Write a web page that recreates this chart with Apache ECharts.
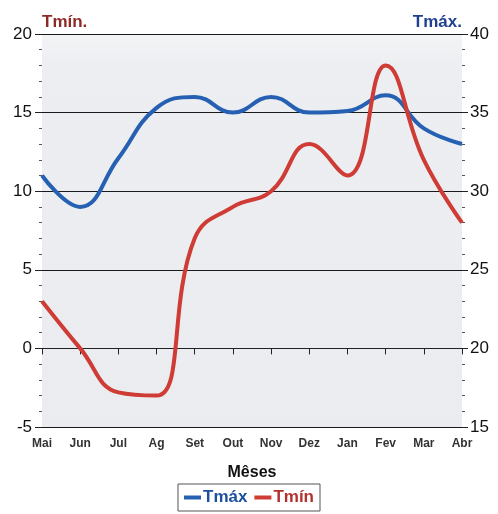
<!DOCTYPE html>
<html>
<head>
<meta charset="utf-8">
<script src="https://cdn.jsdelivr.net/npm/echarts@6/dist/echarts.min.js"></script>
<style>
  html, body { margin: 0; padding: 0; background: #ffffff; }
  #chart { width: 498px; height: 514px; }
</style>
</head>
<body>
<div id="chart"></div>
<script>
// Monthly temperatures, May to April
const months = ['Mai', 'Jun', 'Jul', 'Ag', 'Set', 'Out', 'Nov', 'Dez', 'Jan', 'Fev', 'Mar', 'Abr'];
const tmax = [31, 29, 32.1, 35.3, 36, 35, 36, 35, 35.1, 36.1, 34, 33];
const tmin = [3, 0, -2.8, -3, 7, 9, 10, 13, 11, 18, 12, 8];

const blue = '#2660b3';
const red = '#cf3b35';

const chart = echarts.init(document.getElementById('chart'));
chart.setOption({
  animation: false,
  backgroundColor: '#ffffff',
  textStyle: { fontFamily: 'Liberation Sans, Arial, sans-serif' },
  grid: {
    left: 42, right: 36, top: 34, bottom: 87,
    show: true,
    borderWidth: 0,
    backgroundColor: {
      type: 'linear', x: 0, y: 0, x2: 0, y2: 1,
      colorStops: [
        { offset: 0, color: '#f3f4f6' },
        { offset: 0.08, color: '#eceef1' },
        { offset: 1, color: '#eaecef' }
      ]
    }
  },
  legend: {
    bottom: 3,
    left: 'center',
    padding: [5, 6],
    borderColor: '#555',
    borderWidth: 1,
    itemWidth: 17,
    itemHeight: 4,
    itemGap: 7,
    icon: 'rect',
    textStyle: { fontSize: 17, fontWeight: 'bold', padding: [0, 0, 0, -3] },
    data: [
      { name: 'Tmáx', textStyle: { color: '#1d4f9c' } },
      { name: 'Tmín', textStyle: { color: '#b3312d' } }
    ]
  },
  xAxis: {
    type: 'category',
    data: months,
    boundaryGap: false,
    name: 'Mêses',
    nameLocation: 'middle',
    nameGap: 38,
    nameTextStyle: { fontSize: 16, fontWeight: 'bold', color: '#111' },
    axisLine: { show: true, lineStyle: { color: '#222', width: 1 } },
    axisTick: { show: true, length: 6, alignWithLabel: true, lineStyle: { color: '#222' } },
    axisLabel: { fontSize: 12, fontWeight: 'bold', color: '#333', margin: 11 },
    splitLine: { show: false }
  },
  yAxis: [
    {
      type: 'value',
      min: -5, max: 20, interval: 5,
      position: 'left',
      name: 'Tmín.',
      nameGap: 12,
      nameTextStyle: { color: '#8e2a26', fontSize: 17, fontWeight: 'bold', align: 'left', verticalAlign: 'middle' },
      axisLine: { show: false },
      axisTick: { show: true, length: 7, lineStyle: { color: '#222' } },
      minorTick: { show: true, splitNumber: 5, length: 3, lineStyle: { color: '#555' } },
      axisLabel: { fontSize: 17, color: '#111', margin: 10 },
      splitLine: { show: true, lineStyle: { color: '#1a1a1a', width: 1.2 } }
    },
    {
      type: 'value',
      min: 15, max: 40, interval: 5,
      position: 'right',
      name: 'Tmáx.',
      nameGap: 12,
      nameTextStyle: { color: '#1f3f8f', fontSize: 17, fontWeight: 'bold', align: 'right', verticalAlign: 'middle' },
      axisLine: { show: false },
      axisTick: { show: true, length: 6, lineStyle: { color: '#222' } },
      minorTick: { show: true, splitNumber: 5, length: 3, lineStyle: { color: '#555' } },
      axisLabel: { fontSize: 17, color: '#111', margin: 8 },
      splitLine: { show: false }
    }
  ],
  series: [
    {
      name: 'Tmáx',
      type: 'line',
      yAxisIndex: 1,
      data: tmax,
      smooth: 0.45,
      showSymbol: false,
      symbol: 'none',
      itemStyle: { color: blue },
      lineStyle: { color: blue, width: 4 },
      z: 3
    },
    {
      name: 'Tmín',
      type: 'line',
      yAxisIndex: 0,
      data: tmin,
      smooth: 0.45,
      showSymbol: false,
      symbol: 'none',
      itemStyle: { color: red },
      lineStyle: { color: red, width: 4 },
      z: 4
    }
  ]
});
</script>
</body>
</html>
